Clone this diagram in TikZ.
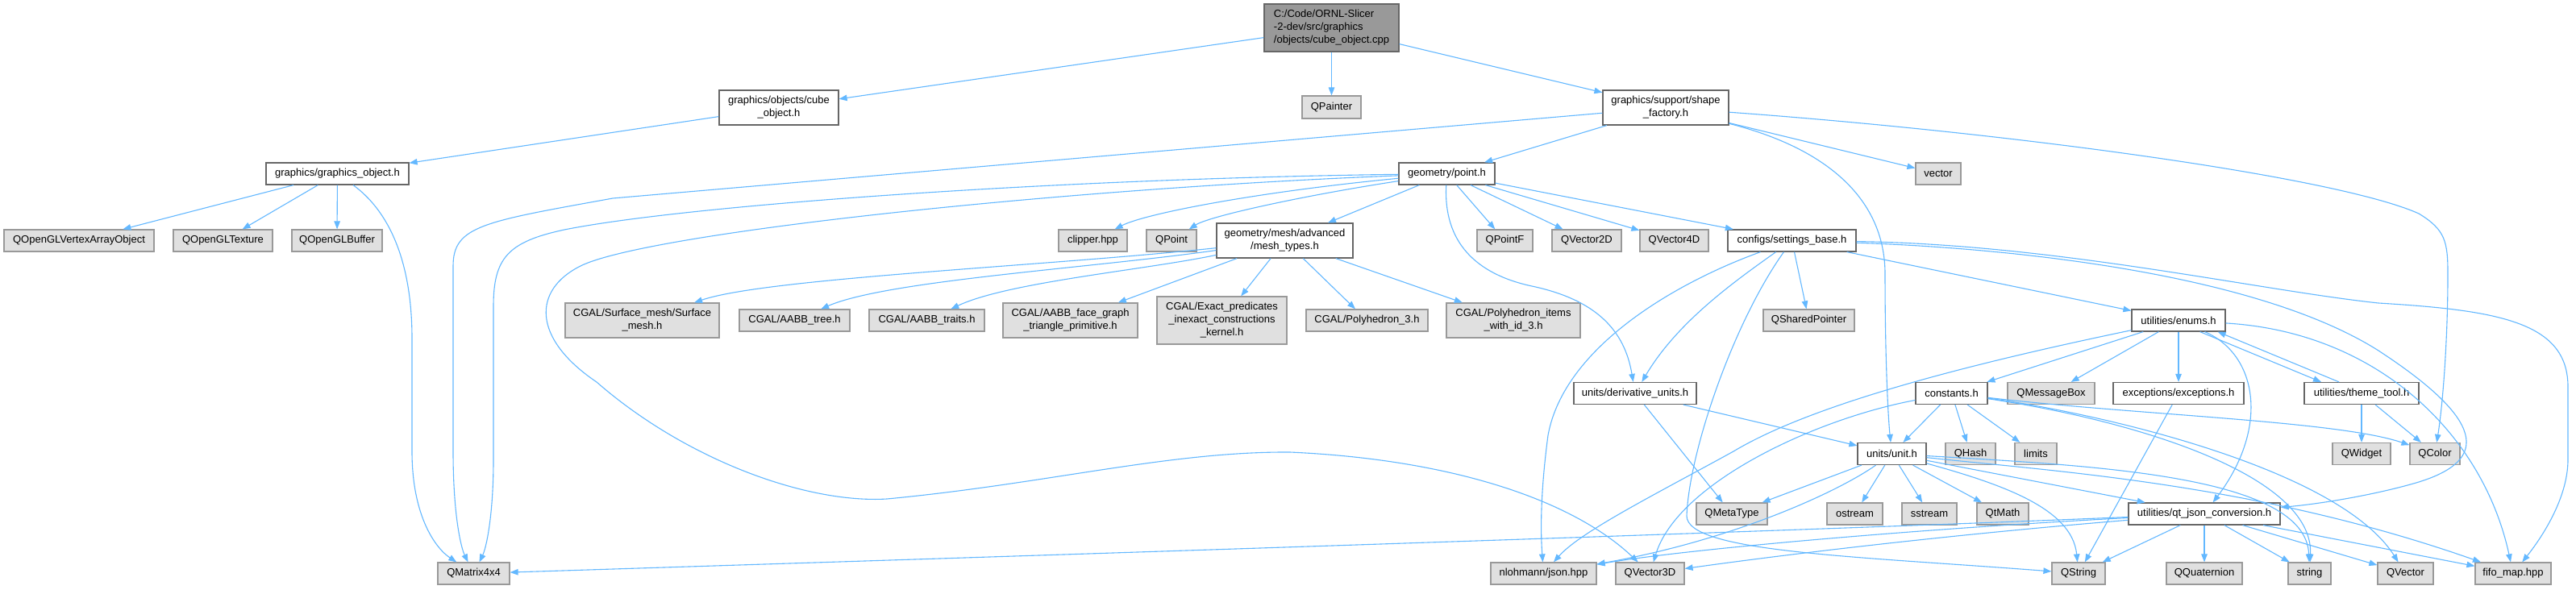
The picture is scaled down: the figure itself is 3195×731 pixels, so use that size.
\documentclass[tikz,border=0pt]{standalone}
\usepackage{fontspec}
\setmainfont{Liberation Sans}
\usetikzlibrary{arrows.meta}
\definecolor{edgecol}{HTML}{63B8FF}
\definecolor{wborder}{HTML}{666666}
\definecolor{gborder}{HTML}{999999}
\definecolor{gfill}{HTML}{E0E0E0}
\definecolor{mainfill}{HTML}{999999}
\tikzset{
  basebox/.style={line width=1.2pt, inner sep=0pt, font=\fontsize{13pt}{16pt}\selectfont, align=center},
  wbox/.style={basebox, draw=wborder, fill=white},
  gbox/.style={basebox, draw=gborder, fill=gfill},
  mainbox/.style={basebox, draw=wborder, fill=mainfill, align=left},
  edge/.style={draw=edgecol, line width=1.1pt, -{Triangle[length=10pt,width=7.5pt]}},
}
\newcommand{\bx}[7]{\node[#6, minimum width=#4pt, minimum height=#5pt] (#1) at (#2,#3) {#7};}
\begin{document}
\begin{tikzpicture}[x=1pt,y=-1pt]
\useasboundingbox[fill=white] (0,0) rectangle (3195,731);
% nodes
\bx{main}{1651.5}{34.5}{167}{59}{mainbox}{C:/Code/ORNL-Slicer\\-2-dev/src/graphics\\/objects/cube\_object.cpp}
\bx{cube}{966}{133.5}{148}{43}{wbox}{graphics/objects/cube\\\_object.h}
\bx{QPainter}{1651.5}{133}{73}{28}{gbox}{QPainter}
\bx{shape}{2066}{133.5}{156}{43}{wbox}{graphics/support/shape\\\_factory.h}
\bx{gobj}{418.5}{215.5}{177}{27}{wbox}{graphics/graphics\_object.h}
\bx{point}{1794.5}{215.5}{119}{27}{wbox}{geometry/point.h}
\bx{vector}{2404}{215.5}{56}{27}{gbox}{vector}
\bx{VAO}{98}{298.5}{186}{27}{gbox}{QOpenGLVertexArrayObject}
\bx{Tex}{276.5}{298.5}{123}{27}{gbox}{QOpenGLTexture}
\bx{Buf}{418}{298.5}{112}{27}{gbox}{QOpenGLBuffer}
\bx{clipper}{1355.5}{298.5}{85}{27}{gbox}{clipper.hpp}
\bx{QPoint}{1453}{298.5}{62}{27}{gbox}{QPoint}
\bx{mesh}{1593.5}{298.5}{169}{43}{wbox}{geometry/mesh/advanced\\/mesh\_types.h}
\bx{QPointF}{1866.5}{298.5}{69}{27}{gbox}{QPointF}
\bx{QVtwoD}{1968}{298.5}{86}{27}{gbox}{QVector2D}
\bx{QVfourD}{2076.5}{298.5}{85}{27}{gbox}{QVector4D}
\bx{settings}{2222.5}{298.5}{159}{27}{wbox}{configs/settings\_base.h}
\bx{surface}{796.5}{397.5}{191}{43}{gbox}{CGAL/Surface\_mesh/Surface\\\_mesh.h}
\bx{aabbtree}{985.5}{397.5}{137}{27}{gbox}{CGAL/AABB\_tree.h}
\bx{aabbtraits}{1149.5}{397.5}{143}{27}{gbox}{CGAL/AABB\_traits.h}
\bx{facegraph}{1327.5}{397.5}{167}{43}{gbox}{CGAL/AABB\_face\_graph\\\_triangle\_primitive.h}
\bx{exact}{1515.5}{397.5}{161}{59}{gbox}{CGAL/Exact\_predicates\\\_inexact\_constructions\\\_kernel.h}
\bx{polythree}{1695.5}{397.5}{151}{27}{gbox}{CGAL/Polyhedron\_3.h}
\bx{polyitems}{1877}{397.5}{166}{43}{gbox}{CGAL/Polyhedron\_items\\\_with\_id\_3.h}
\bx{qshared}{2243.5}{397.5}{113}{27}{gbox}{QSharedPointer}
\bx{enums}{2702}{397.5}{116}{27}{wbox}{utilities/enums.h}
\bx{deriv}{2028}{488}{152}{27}{wbox}{units/derivative\_units.h}
\bx{constants}{2420.5}{488}{89}{27}{wbox}{constants.h}
\bx{msgbox}{2544}{488}{108}{27}{gbox}{QMessageBox}
\bx{exceptions}{2702}{488}{162}{27}{wbox}{exceptions/exceptions.h}
\bx{theme}{2929}{488}{142}{27}{wbox}{utilities/theme\_tool.h}
\bx{unit}{2346.5}{563}{85}{27}{wbox}{units/unit.h}
\bx{qhash}{2444}{563}{62}{27}{gbox}{QHash}
\bx{limits}{2525}{563}{52}{27}{gbox}{limits}
\bx{qwidget}{2929}{563}{72}{27}{gbox}{QWidget}
\bx{qcolor}{3020}{563}{62}{27}{gbox}{QColor}
\bx{qmetatype}{2148}{637.5}{88}{27}{gbox}{QMetaType}
\bx{ostream}{2300.5}{637.5}{69}{27}{gbox}{ostream}
\bx{sstream}{2393}{637.5}{68}{27}{gbox}{sstream}
\bx{qtmath}{2484}{637.5}{64}{27}{gbox}{QtMath}
\bx{qtjson}{2734}{637.5}{188}{27}{wbox}{utilities/qt\_json\_conversion.h}
\bx{qmatrix}{587.5}{711.5}{89}{27}{gbox}{QMatrix4x4}
\bx{json}{1914.5}{711.5}{131}{27}{gbox}{nlohmann/json.hpp}
\bx{qvthreed}{2046.5}{711.5}{85}{27}{gbox}{QVector3D}
\bx{qstring}{2578}{711.5}{66}{27}{gbox}{QString}
\bx{qquat}{2734}{711.5}{94}{27}{gbox}{QQuaternion}
\bx{string}{2864.5}{711.5}{53}{27}{gbox}{string}
\bx{qvector}{2983.5}{711.5}{69}{27}{gbox}{QVector}
\bx{fifo}{3117}{711.5}{94}{27}{gbox}{fifo\_map.hpp}
% edges: main
\draw[edge] (main) -- (cube);
\draw[edge] (main) -- (QPainter);
\draw[edge] (main) -- (shape);
\draw[edge] (cube) -- (gobj);
% graphics_object
\draw[edge] (gobj) -- (VAO);
\draw[edge] (gobj) -- (Tex);
\draw[edge] (gobj) -- (Buf);
\draw[edge] (gobj) .. controls (480,260) and (511,320) .. (511,420) -- (511,560) .. controls (511,640) and (540,680) .. (qmatrix);
% shape_factory
\draw[edge] (shape) -- (760,246) .. controls (600,275) and (562,280) .. (562,330) -- (562,560) .. controls (562,640) and (572,680) .. (qmatrix);
\draw[edge] (shape) -- (point);
\draw[edge] (shape) -- (vector);
\draw[edge] (shape) .. controls (2270,185) and (2338,250) .. (2338,340) .. controls (2338,450) and (2342,520) .. (unit);
\draw[edge] (shape) .. controls (2500,165) and (2900,220) .. (3000,265) .. controls (3033,285) and (3036,300) .. (3036,340) .. controls (3036,420) and (3030,500) .. (qcolor);
% point
\draw[edge] (point) .. controls (1300,222) and (850,255) .. (700,285) .. controls (630,300) and (612,320) .. (612,380) -- (612,570) .. controls (612,640) and (603,680) .. (qmatrix);
\draw[edge] (point) .. controls (1300,235) and (800,290) .. (720,330) .. controls (660,360) and (660,420) .. (740,474) .. controls (850,570) and (1000,625) .. (1100,619) .. controls (1300,600) and (1450,560) .. (1600,561) .. controls (1800,570) and (1950,620) .. (qvthreed);
\draw[edge] (point) .. controls (1560,238) and (1420,265) .. (clipper);
\draw[edge] (point) .. controls (1620,242) and (1500,268) .. (QPoint);
\draw[edge] (point) -- (mesh);
\draw[edge] (point) -- (QPointF);
\draw[edge] (point) -- (QVtwoD);
\draw[edge] (point) -- (QVfourD);
\draw[edge] (point) -- (settings);
\draw[edge] (point) .. controls (1790,300) and (1830,340) .. (1900,355) .. controls (1980,372) and (2015,410) .. (deriv);
% mesh_types
\draw[edge] (mesh) .. controls (1300,330) and (950,345) .. (surface);
\draw[edge] (mesh) .. controls (1350,333) and (1100,348) .. (aabbtree);
\draw[edge] (mesh) .. controls (1420,335) and (1250,350) .. (aabbtraits);
\draw[edge] (mesh) -- (facegraph);
\draw[edge] (mesh) -- (exact);
\draw[edge] (mesh) -- (polythree);
\draw[edge] (mesh) -- (polyitems);
% settings_base
\draw[edge] (settings) .. controls (2080,350) and (1940,430) .. (1920,540) .. controls (1912,600) and (1910,650) .. (json);
\draw[edge] (settings) .. controls (2150,350) and (2080,400) .. (deriv);
\draw[edge] (settings) .. controls (2150,400) and (2095,560) .. (2092,640) .. controls (2092,685) and (2300,690) .. (qstring);
\draw[edge] (settings) -- (qshared);
\draw[edge] (settings) -- (enums);
\draw[edge] (settings) .. controls (2500,308) and (2800,340) .. (2950,435) .. controls (3080,520) and (3090,570) .. (3000,598) .. controls (2950,613) and (2880,625) .. (qtjson);
\draw[edge] (settings) .. controls (2550,303) and (2800,360) .. (2950,376) .. controls (3100,385) and (3185,400) .. (3185,480) -- (3185,570) .. controls (3185,620) and (3150,670) .. (fifo);
% derivative units
\draw[edge] (deriv) -- (qmetatype);
\draw[edge] (deriv) -- (unit);
% enums
\draw[edge] (enums) .. controls (2450,450) and (2250,500) .. (2150,560) .. controls (2050,615) and (1960,660) .. (json);
\draw[edge] (enums) -- (constants);
\draw[edge] (enums) -- (msgbox);
\draw[edge] (enums) -- (exceptions);
\draw[edge] (enums) .. controls (2800,440) and (2815,530) .. (qtjson);
\draw[edge] ([xshift=-32pt]enums.south east) -- ([xshift=-50pt]theme.north);
\draw[edge] ([xshift=-28pt]theme.north) -- ([xshift=-10pt]enums.south east);
\draw[edge] (enums) .. controls (2950,412) and (3080,540) .. (fifo);
% theme, exceptions
\draw[edge] (theme) -- (qwidget);
\draw[edge] (theme) -- (qcolor);
\draw[edge] (exceptions) -- (qstring);
% constants
\draw[edge] (constants) .. controls (2250,520) and (2080,600) .. (qvthreed);
\draw[edge] (constants) -- (unit);
\draw[edge] (constants) -- (qhash);
\draw[edge] (constants) -- (limits);
\draw[edge] (constants) .. controls (2650,515) and (2900,522) .. (qcolor);
\draw[edge] (constants) .. controls (2650,522) and (2870,590) .. (string);
\draw[edge] (constants) .. controls (2600,512) and (2900,580) .. (qvector);
% unit
\draw[edge] (unit) -- (qmetatype);
\draw[edge] (unit) -- (ostream);
\draw[edge] (unit) -- (sstream);
\draw[edge] (unit) -- (qtmath);
\draw[edge] (unit) .. controls (2280,610) and (2150,670) .. (json);
\draw[edge] (unit) .. controls (2480,600) and (2570,630) .. (qstring);
\draw[edge] (unit) -- (qtjson);
\draw[edge] (unit) .. controls (2600,578) and (2860,590) .. (string);
\draw[edge] (unit) .. controls (2550,585) and (2800,600) .. (fifo);
% qt_json_conversion
\draw[edge] (qtjson) .. controls (2200,660) and (1200,692) .. (qmatrix);
\draw[edge] (qtjson) .. controls (2400,655) and (2100,680) .. (json);
\draw[edge] (qtjson) .. controls (2400,665) and (2200,690) .. (qvthreed);
\draw[edge] (qtjson) -- (qstring);
\draw[edge] (qtjson) -- (qquat);
\draw[edge] (qtjson) -- (string);
\draw[edge] (qtjson) -- (qvector);
\draw[edge] (qtjson) -- (fifo);
\end{tikzpicture}
\end{document}
